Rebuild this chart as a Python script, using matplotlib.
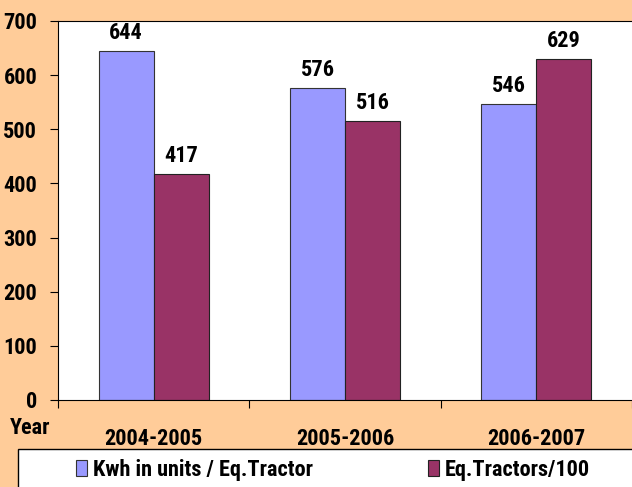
import numpy as np
import matplotlib.pyplot as plt
from matplotlib.patches import Rectangle

years = ['2004-2005', '2005-2006', '2006-2007']
kwh = [644, 576, 546]
tractors = [417, 516, 629]

plt.rcParams['font.family'] = ['Liberation Sans Narrow', 'Roboto Condensed', 'Archivo Narrow', 'DejaVu Sans']
plt.rcParams['font.weight'] = 'bold'
FS = 16

fig = plt.figure(figsize=(6.32, 4.87), dpi=100, facecolor='#FFCC99')
ax = fig.add_axes([58/632, 1 - 400/487, 1 - 58/632, 379/487])
ax.set_facecolor('white')

x = np.arange(len(years))
w = 0.287
b1 = ax.bar(x - w/2, kwh, w, color='#9999FF', edgecolor='#333333', linewidth=0.8,
            label='Kwh in units / Eq.Tractor')
b2 = ax.bar(x + w/2, tractors, w, color='#993366', edgecolor='#222222', linewidth=0.8,
            label='Eq.Tractors/100')
for bars in (b1, b2):
    ax.bar_label(bars, padding=5, fontsize=FS, fontweight='bold')

ax.set_xlim(-0.5, 2.5)
ax.set_ylim(0, 700)
ax.set_yticks(range(0, 701, 100))
ax.set_yticklabels([str(v) for v in range(0, 701, 100)], fontweight='bold')
ax.set_xticks([-0.5, 0.5, 1.5, 2.5])
ax.set_xticklabels([])
ax.set_xticks(x, minor=True)
ax.set_xticklabels(years, minor=True, fontweight='bold')
ax.tick_params(axis='x', which='minor', length=0, pad=20, labelsize=FS)
ax.tick_params(axis='x', which='major', length=6, direction='out')
ax.tick_params(axis='y', length=6, labelsize=FS, pad=9)
ax.spines['right'].set_visible(False)

fig.text(10/632, 1 - 428/487, 'Year', fontsize=FS, fontweight='bold', va='center')

# legend box
fig.patches.append(Rectangle((18/632, -0.1), 1.0, (487 - 449)/487 + 0.1,
                             transform=fig.transFigure, facecolor='white',
                             edgecolor='black', linewidth=1.0, zorder=0))
fig.legend(loc='center left', ncol=2, bbox_to_anchor=(76/632, 1 - 470/487),
           frameon=False, borderpad=0, borderaxespad=0,
           handlelength=0.5, handleheight=0.75, handletextpad=0.25,
           columnspacing=5.2, fontsize=FS)

fig.savefig('out.png', dpi=100, facecolor=fig.get_facecolor())
